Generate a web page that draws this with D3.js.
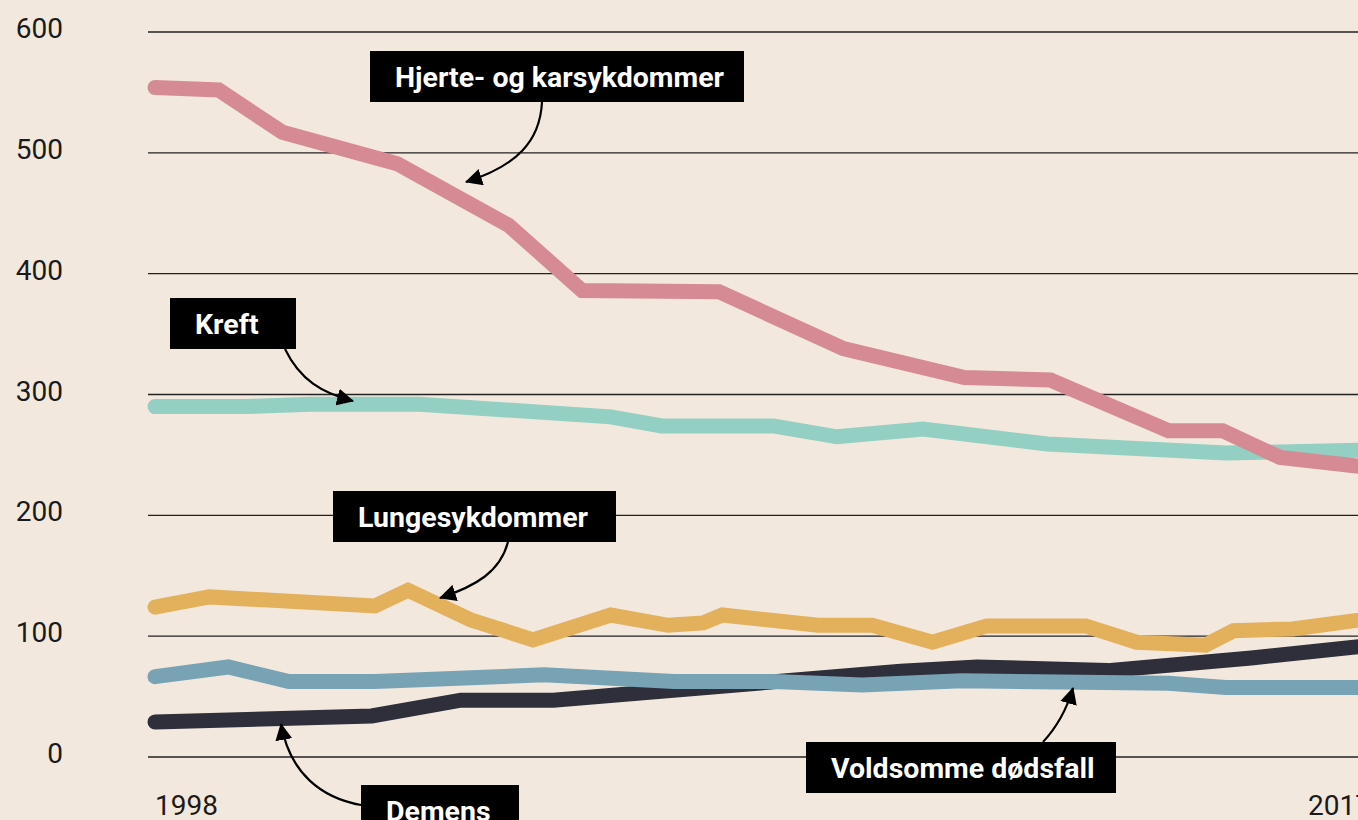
<!DOCTYPE html>
<html>
<head>
<meta charset="utf-8">
<script src="https://cdn.jsdelivr.net/npm/d3@7"></script>
<style>
  html, body { margin: 0; padding: 0; background: #f2e8de; overflow: hidden; }
  svg { display: block; }
  .tick-label { font-family: Roboto, "Noto Sans", sans-serif; font-weight: 400; font-size: 28px; fill: #1a1a1a; }
  .box-label { font-family: Roboto, "Noto Sans", sans-serif; font-weight: 700; font-size: 28.5px; fill: #fff; }
</style>
</head>
<body>
<svg id="chart" width="1358" height="820"></svg>
<script>
// Data (vertices; x in years, y in deaths per 100 000)
const hjerteYears  = [1998, 1999, 2000, 2001.8, 2003.55, 2004.7, 2006.85, 2008.8, 2010.7, 2012.05, 2013.9, 2014.75, 2015.65, 2017];
const hjerteValues = [554, 552, 517, 491, 440, 386, 385, 338, 314, 312, 270, 270, 248, 240];

const kreftYears  = [1998, 1999.4, 2000.45, 2002.15, 2005.15, 2005.95, 2007.7, 2008.7, 2010.05, 2012, 2014.8, 2017];
const kreftValues = [290, 290, 292, 292, 281.5, 274, 274, 265, 271.5, 259, 251.5, 254];

const lungeYears  = [1998, 1998.85, 2001.45, 2001.97, 2002.95, 2003.93, 2005.15, 2006.05, 2006.6, 2006.9, 2008.4, 2009.25, 2010.2, 2011.05, 2012.6, 2013.4, 2014.48, 2014.92, 2015.85, 2017];
const lungeValues = [124, 132.5, 125, 138, 113.5, 97, 117.5, 109, 111, 117.5, 109, 109, 95, 108.5, 108.5, 95, 92.5, 104.5, 106, 114];

const demensYears  = [1998, 2001.4, 2002.8, 2004.25, 2009.7, 2010.9, 2012.95, 2015.2, 2017];
const demensValues = [29, 34, 47, 47, 71, 74.5, 71.5, 82, 92];

const voldYears  = [1998, 1999.15, 2000.1, 2001.45, 2004.1, 2006.15, 2007.7, 2009.1, 2010.65, 2013.9, 2014.8, 2017];
const voldValues = [66.5, 74.5, 62.5, 62.5, 68, 62.5, 62.5, 59.5, 63, 61, 57.5, 57.5];

const yTicks = [0, 100, 200, 300, 400, 500, 600];
const xTickLabels = ["1998", "2017"];

// series, drawn bottom to top
const series = [
  { name: "Demens",                  years: demensYears, values: demensValues, color: "#2e2f3a" },
  { name: "Voldsomme dødsfall",      years: voldYears,   values: voldValues,   color: "#78a3b5" },
  { name: "Lungesykdommer",          years: lungeYears,  values: lungeValues,  color: "#e3b05c" },
  { name: "Kreft",                   years: kreftYears,  values: kreftValues,  color: "#93cfc2" },
  { name: "Hjerte- og karsykdommer", years: hjerteYears, values: hjerteValues, color: "#d68b94" }
];

// label boxes + arrows (pixel layout)
const notes = [
  { text: "Hjerte- og karsykdommer", x: 370, y: 51,  w: 374, arrow: "M542,102 C540,142 516,166 466,182" },
  { text: "Kreft",                   x: 170, y: 298, w: 126, arrow: "M285,349 C300,380 322,393 353,401" },
  { text: "Lungesykdommer",          x: 333, y: 491, w: 283, arrow: "M508,542 C500,572 476,586 440,598" },
  { text: "Demens",                  x: 361, y: 785, w: 158, arrow: "M361,805 C322,798 290,774 281,724" },
  { text: "Voldsomme dødsfall",      x: 806, y: 742, w: 310, arrow: "M1043,742 C1056,728 1066,712 1073,688" }
];

const svg = d3.select("#chart");
const x = d3.scaleLinear().domain([1998, 2017]).range([155, 1366]);
const y = d3.scaleLinear().domain([0, 600]).range([757, 32]);

svg.append("rect").attr("width", 1358).attr("height", 820).attr("fill", "#f2e8de");

// arrow head
svg.append("defs").append("marker")
    .attr("id", "head")
    .attr("viewBox", "0 0 16 16")
    .attr("refX", 15).attr("refY", 8)
    .attr("markerWidth", 17).attr("markerHeight", 17)
    .attr("markerUnits", "userSpaceOnUse")
    .attr("orient", "auto")
  .append("path")
    .attr("d", "M0,0 L16,8 L0,16 Z")
    .attr("fill", "#000");

// grid
const grid = svg.append("g");
grid.selectAll("line")
  .data(yTicks)
  .join("line")
    .attr("x1", 148).attr("x2", 1358)
    .attr("y1", d => y(d)).attr("y2", d => y(d))
    .attr("stroke", "#222")
    .attr("stroke-width", 1.4);

grid.selectAll("text")
  .data(yTicks)
  .join("text")
    .attr("class", "tick-label")
    .attr("x", 63)
    .attr("y", d => y(d) + 6)
    .attr("text-anchor", "end")
    .text(d => d);

svg.append("g").selectAll("text")
  .data(xTickLabels)
  .join("text")
    .attr("class", "tick-label")
    .attr("x", (d, i) => i === 0 ? x(+d) : x(+d) + 5)
    .attr("y", 815)
    .attr("text-anchor", (d, i) => i === 0 ? "start" : "end")
    .text(d => d);

// lines
const line = d3.line()
  .x(d => x(d[0]))
  .y(d => y(d[1]));

svg.append("g").selectAll("path")
  .data(series)
  .join("path")
    .attr("d", s => line(s.years.map((yr, i) => [yr, s.values[i]])))
    .attr("fill", "none")
    .attr("stroke", s => s.color)
    .attr("stroke-width", 15)
    .attr("stroke-linecap", "round")
    .attr("stroke-linejoin", "miter");

// annotations
const ann = svg.append("g");
ann.selectAll("path")
  .data(notes)
  .join("path")
    .attr("d", d => d.arrow)
    .attr("fill", "none")
    .attr("stroke", "#000")
    .attr("stroke-width", 2.2)
    .attr("marker-end", "url(#head)");

const box = ann.selectAll("g.note")
  .data(notes)
  .join("g")
    .attr("class", "note")
    .attr("transform", d => `translate(${d.x},${d.y})`);

box.append("rect")
    .attr("width", d => d.w)
    .attr("height", 51)
    .attr("fill", "#000");

box.append("text")
    .attr("class", "box-label")
    .attr("x", 25)
    .attr("y", 36)
    .text(d => d.text);
</script>
</body>
</html>
